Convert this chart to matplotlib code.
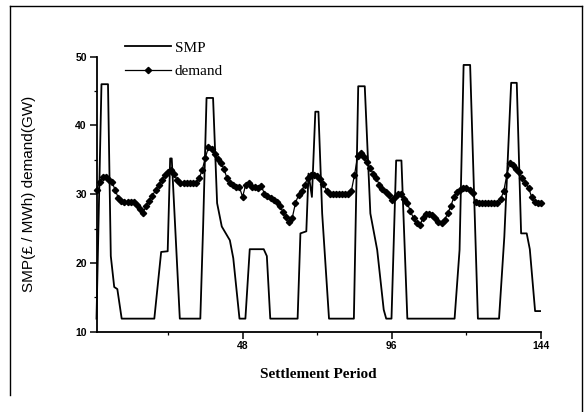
import matplotlib
matplotlib.use("Agg")
import matplotlib.pyplot as plt
from matplotlib.lines import Line2D
from matplotlib.ticker import MultipleLocator, FixedLocator

# ---- data ----
periods = list(range(1, 145))
demand = [30.6, 31.8, 32.5, 32.5, 32.1, 31.8, 30.6, 29.5, 29.0, 28.9,
          28.9, 28.9, 28.9, 28.5, 27.8, 27.3, 28.3, 29.0, 29.8, 30.6,
          31.4, 32.1, 32.8, 33.3, 33.5, 32.9, 32.0, 31.7, 31.7, 31.7,
          31.7, 31.7, 31.7, 32.3, 33.5, 35.3, 36.8, 36.6, 35.8, 35.1,
          34.5, 33.7, 32.3, 31.7, 31.3, 31.1, 31.0, 29.6, 31.4, 31.6,
          31.1, 31.1, 30.9, 31.2, 30.1, 29.7, 29.4, 29.2, 28.9, 28.3,
          27.4, 26.7, 25.9, 26.6, 28.7, 29.9, 30.5, 31.4, 32.4, 32.8,
          32.8, 32.7, 32.2, 31.5, 30.5, 30.0, 30.0, 30.0, 30.0, 30.0,
          30.0, 30.0, 30.5, 32.8, 35.5, 36.0, 35.4, 34.7, 33.8, 33.0,
          32.3, 31.4, 30.8, 30.3, 29.9, 29.2, 29.6, 30.1, 30.0, 29.3,
          28.7, 27.5, 26.5, 25.8, 25.5, 26.5, 27.1, 27.1, 27.0, 26.6,
          26.0, 25.8, 26.3, 27.2, 28.3, 29.6, 30.3, 30.6, 30.9, 30.9,
          30.6, 30.2, 28.9, 28.7, 28.7, 28.7, 28.7, 28.7, 28.7, 28.7,
          29.3, 30.4, 32.8, 34.6, 34.3, 33.7, 33.2, 32.3, 31.7, 30.9,
          29.6, 28.9, 28.7, 28.7]

smp_period = [1, 2.6, 4.7, 5.6, 6.7, 7.7, 9.1, 19.6, 21.8, 23.9,
              24.7, 25.2, 27.8, 34.4, 35.3, 36.4, 38.5, 39.8, 41.3, 43.9,
              45.0, 47.0, 48.9, 50.3, 54.8, 55.8, 56.9, 65.7, 66.6, 68.5,
              69.2, 70.3, 71.4, 72.4, 73.6, 75.8, 83.8, 85.2, 87.3, 89.1,
              91.3, 93.4, 94.2, 95.9, 97.4, 99.1, 101.0, 116.2, 117.8, 119.1,
              121.2, 123.7, 130.5, 132.2, 134.4, 136.2, 137.6, 139.4, 140.4, 142.1,
              143.7]
smp_value = [11.9, 46.0, 46.0, 21.0, 16.5, 16.2, 11.9, 11.9, 21.6, 21.7,
             35.2, 35.2, 11.9, 11.9, 25.3, 44.0, 44.0, 28.7, 25.3, 23.3,
             20.7, 11.9, 11.9, 22.0, 22.0, 21.0, 11.9, 11.9, 24.3, 24.6,
             33.0, 29.6, 42.0, 42.0, 27.2, 11.9, 11.9, 45.7, 45.7, 27.2,
             21.9, 13.2, 11.9, 11.9, 34.9, 34.9, 11.9, 11.9, 21.9, 48.8,
             48.8, 11.9, 11.9, 23.8, 46.2, 46.2, 24.3, 24.3, 22.0, 13.0,
             13.0]

x_major = [48, 96, 144]
x_minor = [24, 72, 120]
y_major = [10, 20, 30, 40, 50]

W, H = 586, 412
fig = plt.figure(figsize=(W / 100, H / 100), dpi=100)
fig.patch.set_facecolor("white")

ax_left, ax_right, ax_bottom, ax_top = 96.5, 541, 331.7, 56.7
ax = fig.add_axes([ax_left / W, 1 - ax_bottom / H,
                   (ax_right - ax_left) / W, (ax_bottom - ax_top) / H])

ax.plot(smp_period, smp_value, color="black", lw=1.3, label="SMP",
        clip_on=False)
ax.plot(periods, demand, color="black", lw=0.9, marker="D", ms=3.2,
        mec="black", mfc="black", label="demand", clip_on=False)

ax.set_xlim(1, 144)
ax.set_ylim(10, 50)
for s in ("top", "right"):
    ax.spines[s].set_visible(False)
for s in ("left", "bottom"):
    ax.spines[s].set_linewidth(1.3)

ax.xaxis.set_major_locator(FixedLocator(x_major))
ax.xaxis.set_minor_locator(FixedLocator(x_minor))
ax.yaxis.set_major_locator(FixedLocator(y_major))
ax.yaxis.set_minor_locator(MultipleLocator(5))
ax.tick_params(which="major", direction="out", length=5, width=1.1,
               labelsize=7.5, pad=2)
ax.tick_params(which="minor", direction="out", length=2.5, width=0.9)
for lab in ax.get_xticklabels() + ax.get_yticklabels():
    lab.set_fontweight("bold")
    lab.set_family("Liberation Sans")

ax.set_xlabel("Settlement Period", family="Liberation Serif",
              fontweight="bold", fontsize=11, labelpad=12)
ax.set_ylabel("SMP(£ / MWh) demand(GW)", family="Liberation Sans",
              fontsize=11, labelpad=28)

leg = ax.legend(loc="upper left", bbox_to_anchor=(125 / W, 1 - 41 / H),
                bbox_transform=fig.transFigure, frameon=False,
                prop={"family": "Liberation Serif", "size": 11},
                handlelength=3.0, handletextpad=0.25, labelspacing=0.65,
                borderpad=0, borderaxespad=0, numpoints=1)

# outer frame of the figure
fig.add_artist(Line2D([10 / W, 10 / W], [1 - 6 / H, 1 - 395 / H],
                      transform=fig.transFigure, color="black", lw=1.0))
fig.add_artist(Line2D([10 / W, 582 / W], [1 - 6 / H, 1 - 6 / H],
                      transform=fig.transFigure, color="black", lw=1.0))
fig.add_artist(Line2D([582 / W, 582 / W], [1 - 6 / H, 0],
                      transform=fig.transFigure, color="black", lw=1.0))

fig.savefig("out.png", dpi=100)
